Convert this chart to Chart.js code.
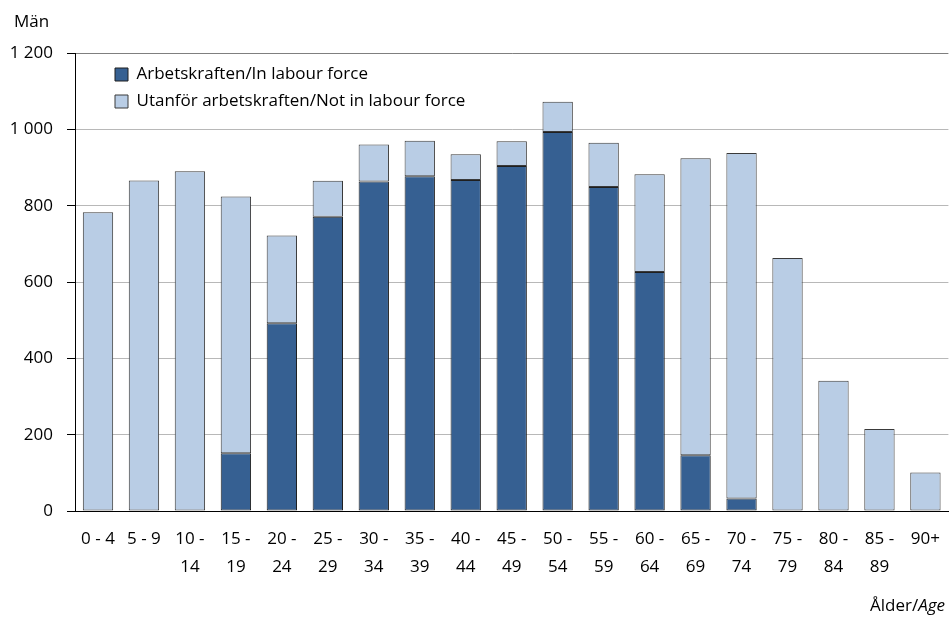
<!DOCTYPE html>
<html>
<head>
<meta charset="utf-8">
<script src="https://cdn.jsdelivr.net/npm/chart.js@4/dist/chart.umd.min.js"></script>
<style>
  html, body { margin: 0; padding: 0; background: #fff; overflow: hidden; }
  #wrap { width: 949px; height: 618px; overflow: hidden; }
</style>
</head>
<body>
<div id="wrap"><canvas id="chart" width="954" height="618"></canvas></div>
<script>
// Åldersgrupper
const ageLabels = [
    ['0 - 4'], ['5 - 9'], ['10 -', '14'], ['15 -', '19'], ['20 -', '24'],
    ['25 -', '29'], ['30 -', '34'], ['35 -', '39'], ['40 -', '44'], ['45 -', '49'],
    ['50 -', '54'], ['55 -', '59'], ['60 -', '64'], ['65 -', '69'], ['70 -', '74'],
    ['75 -', '79'], ['80 -', '84'], ['85 -', '89'], ['90+']
];

// I arbetskraften
const inLabour = [0, 0, 0, 151, 492, 771, 863, 877, 867, 904, 993, 849, 626, 146, 33, 0, 0, 0, 0];

// Utanför arbetskraften
const notInLabour = [783, 866, 890, 673, 230, 94, 97, 93, 68, 65, 79, 116, 256, 778, 905, 663, 341, 215, 101];

// Y-axelns steg
const yTicks = [0, 200, 400, 600, 800, 1000, 1200];

const FONT = "'Open Sans', sans-serif";

// formatera tal med mellanslag som tusentalsavgränsare
function formatNumber(v) {
    return String(v).replace(/\B(?=(\d{3})+(?!\d))/g, ' ');
}

// extra texter: "Män" och "Ålder/Age"
const textPlugin = {
    id: 'extraTexts',
    afterLayout(chart) {
        // flytta legenden in i diagrammet
        chart.legend.left = 105;
        chart.legend.top = 56;
    },
    afterDraw(chart) {
        const ctx = chart.ctx;
        ctx.save();
        ctx.fillStyle = '#000';
        ctx.textBaseline = 'middle';
        ctx.font = '17px ' + FONT;
        ctx.textAlign = 'left';
        ctx.fillText('Män', 14, 22);

        ctx.textAlign = 'right';
        ctx.font = 'italic 17px ' + FONT;
        const ageW = ctx.measureText('Age').width;
        ctx.fillText('Age', 945, 606);
        ctx.font = '17px ' + FONT;
        ctx.fillText('Ålder/', 945 - ageW, 606);
        ctx.restore();
    }
};

function createChart() {
    const ctx = document.getElementById('chart').getContext('2d');
    new Chart(ctx, {
        type: 'bar',
        data: {
            labels: ageLabels,
            datasets: [{
                label: 'Arbetskraften/In labour force',
                data: inLabour,
                backgroundColor: '#366092',
                borderColor: '#1f1f1f',
                borderWidth: 1,
                borderSkipped: false
            }, {
                label: 'Utanför arbetskraften/Not in labour force',
                data: notInLabour,
                backgroundColor: '#B9CDE5',
                borderColor: '#3a3a3a',
                borderWidth: 1,
                borderSkipped: false
            }]
        },
        options: {
            responsive: false,
            animation: false,
            devicePixelRatio: 1,
            layout: { padding: { top: 53, left: 0, right: 0, bottom: 0 } },
            datasets: {
                bar: { categoryPercentage: 1, barPercentage: 0.66 }
            },
            plugins: {
                legend: {
                    position: 'chartArea',
                    align: 'start',
                    labels: {
                        boxWidth: 13,
                        boxHeight: 13,
                        padding: 10,
                        color: '#000',
                        font: { family: FONT, size: 17 }
                    }
                },
                tooltip: { enabled: false }
            },
            scales: {
                x: {
                    stacked: true,
                    grid: { display: false, drawTicks: false },
                    border: { display: true, color: '#000', width: 1 },
                    ticks: {
                        color: '#000',
                        padding: 14,
                        maxRotation: 0,
                        autoSkip: false,
                        font: { family: FONT, size: 17, lineHeight: 1.65 }
                    },
                    afterFit(scale) { scale.height = 107; }
                },
                y: {
                    stacked: true,
                    min: yTicks[0],
                    max: yTicks[yTicks.length - 1],
                    afterBuildTicks(scale) {
                        scale.ticks = yTicks.map(v => ({ value: v }));
                    },
                    grid: {
                        color: c => (c.tick && c.tick.value === 1200) ? '#7f7f7f' : '#b8b8b8',
                        lineWidth: 1,
                        drawTicks: true,
                        tickLength: 8,
                        tickColor: '#000'
                    },
                    border: { display: true, color: '#000', width: 1 },
                    ticks: {
                        color: '#000',
                        padding: 14,
                        font: { family: FONT, size: 17 },
                        callback: v => formatNumber(v)
                    },
                    afterFit(scale) { scale.width = 75; }
                }
            }
        },
        plugins: [textPlugin]
    });
}

document.addEventListener('DOMContentLoaded', createChart);
</script>
</body>
</html>
